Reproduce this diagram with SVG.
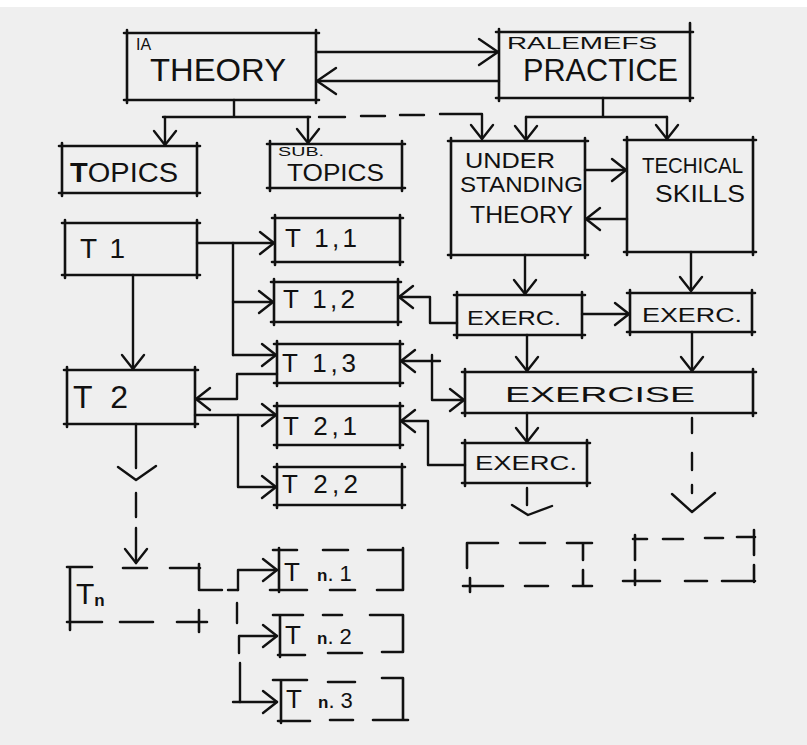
<svg xmlns="http://www.w3.org/2000/svg" width="807" height="745" viewBox="0 0 807 745">
<style>
.b{fill:none;stroke:#111;stroke-width:2.6;stroke-linecap:round;stroke-linejoin:round}
.c{fill:none;stroke:#111;stroke-width:2.4;stroke-linecap:round;stroke-linejoin:round}
.a{marker-end:url(#ah)}
.A{marker-end:url(#ahL)}
.t{font-family:"Liberation Sans",Arial,sans-serif;fill:#111}
</style>
<defs>
<marker id="ah" markerUnits="userSpaceOnUse" viewBox="-20 -15 24 30" markerWidth="24" markerHeight="30" refX="0" refY="0" orient="auto">
<path d="M-14,-11 L0,0 L-14,11" fill="none" stroke="#111" stroke-width="2.4" stroke-linecap="round" stroke-linejoin="round"/>
</marker>
<marker id="ahL" markerUnits="userSpaceOnUse" viewBox="-24 -16 28 32" markerWidth="28" markerHeight="32" refX="0" refY="0" orient="auto">
<path d="M-19,-13 L0,0 L-19,13" fill="none" stroke="#111" stroke-width="2.4" stroke-linecap="round" stroke-linejoin="round"/>
</marker>
</defs>
<rect x="0" y="0" width="807" height="745" fill="#efefef"/>
<rect x="0" y="0" width="807" height="7" fill="#ffffff"/>

<g id="connectors">
<path class="c A" d="M316 52H498"/>
<path class="c A" d="M499 81H317"/>
<path class="c" d="M234 100V117M163 117H310"/>
<path class="c a" d="M165 117V145"/>
<path class="c a" d="M308 117V143"/>
<path class="c a" d="M319 117H345M361 116H385M400 115H424M440 114H482V139"/>
<path class="c" d="M603 98V117M526 117H667"/>
<path class="c a" d="M526 117V140"/>
<path class="c a" d="M667 117V139"/>
<path class="c a" d="M585 170H626"/>
<path class="c a" d="M627 219H586"/>
<path class="c a" d="M197 243H274"/>
<path class="c" d="M233 243V355"/>
<path class="c a" d="M233 302H273"/>
<path class="c a" d="M233 355H276"/>
<path class="c a" d="M133 275V369"/>
<path class="c a" d="M277 374H237V399H196"/>
<path class="c a" d="M195 415H276"/>
<path class="c a" d="M238 415V487H276"/>
<path class="c a" d="M457 323H430V297H399"/>
<path class="c a" d="M525 255V294"/>
<path class="c a" d="M691 252V291"/>
<path class="c a" d="M582 314H629"/>
<path class="c a" d="M527 335V371"/>
<path class="c a" d="M692 332V371"/>
<path class="c a" d="M440 361H401"/>
<path class="c a" d="M432 355V400H464"/>
<path class="c a" d="M527 413V442"/>
<path class="c a" d="M465 465H428V421H401"/>
<path class="c" d="M136 424V468M118 467L136 480L156 466M136 493V517"/>
<path class="c a" d="M136 528V563"/>
<path class="c" d="M527 488V505M512 505L528 515L552 506"/>
<path class="c" d="M692 418V433M692 453V470M692 485V493M672 494L692 512L715 493"/>
<path class="c" d="M200 590H222M228 590H238"/>
<path class="c a" d="M238 590V570H277"/>
<path class="c" d="M237 603V623"/>
<path class="c a" d="M239 653V636H277"/>
<path class="c a" d="M240 663V702H277"/>
<path class="c" d="M233 702H240"/>
</g>

<g id="theory">
<path class="b" d="M124 33H319M127 30V103M316 30V103M124 100H319"/>
<text class="t" x="136" y="50" font-size="16">IA</text>
<text class="t" x="150" y="81" font-size="31" textLength="136" lengthAdjust="spacingAndGlyphs">THEORY</text>
</g>
<g id="practice">
<path class="b" d="M496 32H693M499 29V101M690 23V101M496 98H693"/>
<text class="t" x="507" y="49" font-size="16" textLength="150" lengthAdjust="spacingAndGlyphs">RALEMEFS</text>
<text class="t" x="523" y="81" font-size="31" textLength="155" lengthAdjust="spacingAndGlyphs">PRACTICE</text>
</g>
<g id="topics">
<path class="b" d="M59 146H200M62 143V196M197 143V196M59 193H200"/>
<text class="t" x="70" y="182" font-size="27" textLength="108" lengthAdjust="spacingAndGlyphs"><tspan font-weight="bold">T</tspan>OPICS</text>
</g>
<g id="subtopics">
<path class="b" d="M267 144H405M270 141V191M402 141V191M267 188H405"/>
<text class="t" x="278" y="156" font-size="13" textLength="46" lengthAdjust="spacingAndGlyphs">SUB.</text>
<text class="t" x="287" y="181" font-size="23" textLength="97" lengthAdjust="spacingAndGlyphs">TOPICS</text>
</g>
<g id="understanding">
<path class="b" d="M448 141H588M451 138V258M585 138V258M448 255H588"/>
<text class="t" x="465" y="168" font-size="22" textLength="90" lengthAdjust="spacingAndGlyphs">UNDER</text>
<text class="t" x="460" y="192" font-size="22" textLength="123" lengthAdjust="spacingAndGlyphs">STANDING</text>
<text class="t" x="470" y="223" font-size="24" textLength="103" lengthAdjust="spacingAndGlyphs">THEORY</text>
</g>
<g id="technical">
<path class="b" d="M624 140H756M627 137V255M753 137V255M624 252H756"/>
<text class="t" x="642" y="173" font-size="22" textLength="101" lengthAdjust="spacingAndGlyphs">TECHICAL</text>
<text class="t" x="655" y="202" font-size="24" textLength="90" lengthAdjust="spacingAndGlyphs">SKILLS</text>
</g>
<g id="t1">
<path class="b" d="M62 223H200M65 220V278M197 220V278M62 275H200"/>
<text class="t" x="80" y="258" font-size="28" textLength="45">T1</text>
</g>
<g id="t11">
<path class="b" d="M272 218H403M275 215V265M400 215V265M272 262H403"/>
<text class="t" x="285" y="247" font-size="26" textLength="72">T 1,1</text>
</g>
<g id="t12">
<path class="b" d="M271 282H401M274 279V325M398 279V325M271 322H401"/>
<text class="t" x="283" y="308" font-size="26" textLength="72">T 1,2</text>
</g>
<g id="t13">
<path class="b" d="M274 344H403M277 341V386M400 341V386M274 383H403"/>
<text class="t" x="282" y="372" font-size="26" textLength="74">T 1,3</text>
</g>
<g id="t2">
<path class="b" d="M64 370H198M67 367V427M195 367V427M64 424H198"/>
<text class="t" x="73" y="408" font-size="32" textLength="55">T2</text>
</g>
<g id="t21">
<path class="b" d="M274 406H403M277 403V448M400 403V448M274 445H403"/>
<text class="t" x="283" y="435" font-size="26" textLength="74">T 2,1</text>
</g>
<g id="t22">
<path class="b" d="M274 467H405M277 464V508M402 464V508M274 505H405"/>
<text class="t" x="282" y="493" font-size="26" textLength="76">T 2,2</text>
</g>
<g id="exerc1">
<path class="b" d="M454 295H585M457 292V338M582 292V338M454 335H585"/>
<text class="t" x="467" y="325" font-size="20" textLength="94" lengthAdjust="spacingAndGlyphs">EXERC.</text>
</g>
<g id="exerc2">
<path class="b" d="M627 293H755M630 290V335M752 290V335M627 332H755"/>
<text class="t" x="642" y="322" font-size="20" textLength="100" lengthAdjust="spacingAndGlyphs">EXERC.</text>
</g>
<g id="exercise">
<path class="b" d="M462 372H756M465 369V416M753 369V416M462 413H756"/>
<text class="t" x="505" y="402" font-size="22" textLength="190" lengthAdjust="spacingAndGlyphs">EXERCISE</text>
</g>
<g id="exerc3">
<path class="b" d="M462 443H590M465 440V486M587 440V486M462 483H590"/>
<text class="t" x="475" y="470" font-size="20" textLength="102" lengthAdjust="spacingAndGlyphs">EXERC.</text>
</g>
<g id="tn">
<path class="b" d="M70 567V630M67 567H92M123 568H147M170 568H200M199 564V590M67 622H102M120 622H153M177 622H207M199 610V632"/>
<text class="t" x="76" y="604" font-size="30">T<tspan font-size="17" font-weight="bold" dy="2">n</tspan></text>
</g>
<g id="tn1">
<path class="b" d="M279 548V592M273 550H297M270 590H307M323 550H348M368 550H403M403 548V590M330 590H355M377 590H403"/>
<text class="t" x="284" y="581" font-size="26">T<tspan x="317" font-size="17" font-weight="bold">n</tspan><tspan font-size="22">. 1</tspan></text>
</g>
<g id="tn2">
<path class="b" d="M280 615V657M273 615H303M323 615H342M370 615H403M403 615V652M278 655H305M328 653H362M382 652H403"/>
<text class="t" x="285" y="644" font-size="26">T<tspan x="317" font-size="17" font-weight="bold">n</tspan><tspan font-size="22">. 2</tspan></text>
</g>
<g id="tn3">
<path class="b" d="M281 680V723M273 680H307M328 682H355M382 678H403M403 678V720M278 721H310M330 720H353M373 720H408"/>
<text class="t" x="286" y="708" font-size="26">T<tspan x="318" font-size="17" font-weight="bold">n</tspan><tspan font-size="22">. 3</tspan></text>
</g>
<g id="ex-dashed-a">
<path class="b" d="M467 543V568M467 543H498M520 543H545M567 543H592M583 543V560M463 586H503M470 578V592M525 586H548M573 586H592M583 570V586"/>
</g>
<g id="ex-dashed-b">
<path class="b" d="M635 535V560M633 539H647M663 539H683M705 538H723M737 537H755M754 530V555M623 581H660M635 570V585M685 581H707M722 581H755M754 565V582"/>
</g>
</svg>
